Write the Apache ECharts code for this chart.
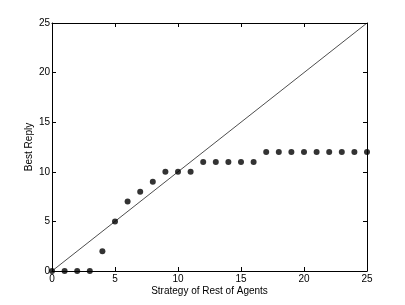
<!DOCTYPE html>
<html><head><meta charset="utf-8">
<script src="https://cdn.jsdelivr.net/npm/echarts@6/dist/echarts.min.js"></script>
<style>html,body{margin:0;padding:0;background:#fff}#c{width:405px;height:305px}</style>
</head><body><div id="c"></div>
<script>
var strategies = [0,1,2,3,4,5,6,7,8,9,10,11,12,13,14,15,16,17,18,19,20,21,22,23,24,25];
var bestReply  = [0,0,0,0,2,5,7,8,9,10,10,10,11,11,11,11,11,12,12,12,12,12,12,12,12,12];
var diagonal = [[0,0],[25,25]];
var xTicks = [0,5,10,15,20,25];
var yTicks = [0,5,10,15,20,25];

var font = 'Liberation Sans, Arial, Helvetica, sans-serif';
function axisCommon(show){
  return {
    min:0, max:25, interval:5,
    axisLine:{show:true, onZero:false, lineStyle:{color:'#000', width:1}},
    axisTick:{show:true, inside:true, length:4, lineStyle:{color:'#000'}},
    axisLabel:{show:show, color:'#000', fontSize:10, fontFamily:font, margin:3},
    splitLine:{show:false}
  };
}
var xb = axisCommon(true); xb.type='value'; xb.position='bottom';
xb.name='Strategy of Rest of Agents'; xb.nameLocation='middle'; xb.nameGap=15;
xb.nameMoveOverlap=false;
xb.nameTextStyle={color:'#000', fontSize:10, fontFamily:font};
var xt = axisCommon(false); xt.type='value'; xt.position='top';
var yl = axisCommon(true); yl.type='value'; yl.position='left';
yl.name='Best Reply'; yl.nameLocation='middle'; yl.nameGap=18;
yl.nameMoveOverlap=false;
yl.nameTextStyle={color:'#000', fontSize:10, fontFamily:font};
yl.axisLabel.margin=2;
var yr = axisCommon(false); yr.type='value'; yr.position='right';

var chart = echarts.init(document.getElementById('c'), null, {renderer:'canvas'});
chart.setOption({
  animation:false,
  backgroundColor:'#fff',
  grid:{left:52, right:38, top:23, bottom:34},
  xAxis:[xb, xt],
  yAxis:[yl, yr],
  series:[
    {type:'line', data:diagonal, xAxisIndex:0, yAxisIndex:0, symbol:'none',
     lineStyle:{color:'#000', width:0.7}, silent:true},
    {type:'scatter', data:strategies.map(function(s,i){return [s,bestReply[i]];}),
     xAxisIndex:0, yAxisIndex:0, symbol:'circle', symbolSize:6,
     itemStyle:{color:'#000'}}
  ]
});
</script></body></html>
